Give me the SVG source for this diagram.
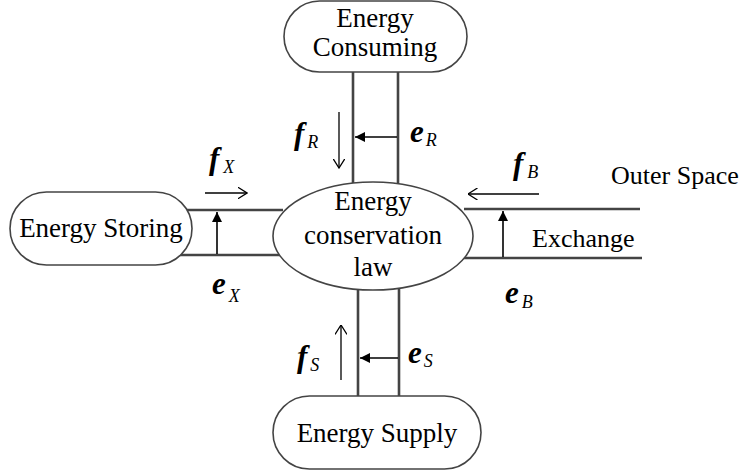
<svg xmlns="http://www.w3.org/2000/svg" width="745" height="473" viewBox="0 0 745 473">
<defs>
<marker id="fill" viewBox="0 0 10 10" refX="10" refY="5" markerWidth="10" markerHeight="10" markerUnits="userSpaceOnUse" orient="auto">
<path d="M0,0 L10,5 L0,10 z" fill="#000"/>
</marker>
<marker id="open" viewBox="0 0 10 12" refX="9.5" refY="6" markerWidth="10" markerHeight="12" markerUnits="userSpaceOnUse" orient="auto">
<path d="M0,0 L9.5,6 L0,12" fill="none" stroke="#000" stroke-width="1.3"/>
</marker>
</defs>
<style>
.node{fill:#fff;stroke:#444;stroke-width:1.6}
.t{font-family:'Liberation Serif',serif;font-size:27px;fill:#000;text-anchor:middle}
.lt{font-family:'Liberation Serif',serif;font-size:26px;fill:#000}
.v{font-family:'Liberation Serif',serif;font-size:31px;font-weight:bold;font-style:italic;fill:#000}
.s{font-size:18px;font-weight:normal;font-style:italic}
.bus{stroke:#444;stroke-width:2.6;fill:none}
.ea{stroke:#000;stroke-width:1.6;fill:none;marker-end:url(#fill)}
.fa{stroke:#000;stroke-width:1.3;fill:none;marker-end:url(#open)}
</style>
<rect width="745" height="473" fill="#fff"/>
<g id="connectors">
<line class="bus" x1="353" y1="72" x2="353" y2="184"/>
<line class="bus" x1="398" y1="72" x2="398" y2="184"/>
<line class="bus" x1="187" y1="210" x2="283" y2="210"/>
<line class="bus" x1="180" y1="255" x2="280" y2="255"/>
<line class="bus" x1="464" y1="209" x2="640" y2="209"/>
<line class="bus" x1="462" y1="258" x2="642" y2="258"/>
<line class="bus" x1="358" y1="289" x2="358" y2="397"/>
<line class="bus" x1="399" y1="289" x2="399" y2="397"/>
<line class="ea" x1="397" y1="137" x2="355" y2="137"/>
<line class="fa" x1="339" y1="112" x2="339" y2="168"/>
<line class="ea" x1="217" y1="254" x2="217" y2="212"/>
<line class="fa" x1="205" y1="193" x2="247" y2="193"/>
<line class="ea" x1="503" y1="257" x2="503" y2="211"/>
<line class="fa" x1="539" y1="194" x2="468" y2="194"/>
<line class="ea" x1="398" y1="358" x2="360" y2="358"/>
<line class="fa" x1="341" y1="380" x2="341" y2="325"/>
</g>
<g id="consuming">
<rect class="node" x="284" y="1" width="183" height="71" rx="35.5"/>
<text class="t" x="375" y="27">Energy</text>
<text class="t" x="375" y="56">Consuming</text>
</g>
<g id="storing">
<rect class="node" x="10" y="192" width="182" height="73" rx="36.5"/>
<text class="t" x="101" y="237">Energy Storing</text>
</g>
<g id="law">
<ellipse class="node" cx="373" cy="236" rx="100" ry="54"/>
<text class="t" x="373" y="210">Energy</text>
<text class="t" x="373" y="244">conservation</text>
<text class="t" x="373" y="276">law</text>
</g>
<g id="supply">
<rect class="node" x="273" y="396" width="208" height="73" rx="36.5"/>
<text class="t" x="377" y="442">Energy Supply</text>
</g>
<g id="exchange">
<text class="lt" x="532" y="247">Exchange</text>
<text class="lt" x="611" y="184">Outer Space</text>
</g>
<g id="labels">
<text class="v" x="294" y="144">f<tspan class="s" dx="3" dy="4">R</tspan></text>
<text class="v" x="410" y="142">e<tspan class="s" dx="2" dy="4">R</tspan></text>
<text class="v" x="209" y="169">f<tspan class="s" dx="4" dy="4">X</tspan></text>
<text class="v" x="212" y="294">e<tspan class="s" dx="3" dy="8">X</tspan></text>
<text class="v" x="513" y="174">f<tspan class="s" dx="4" dy="4">B</tspan></text>
<text class="v" x="505" y="303">e<tspan class="s" dx="3" dy="5">B</tspan></text>
<text class="v" x="297" y="367">f<tspan class="s" dx="3" dy="4">S</tspan></text>
<text class="v" x="408" y="363">e<tspan class="s" dx="2" dy="4">S</tspan></text>
</g>
</svg>
